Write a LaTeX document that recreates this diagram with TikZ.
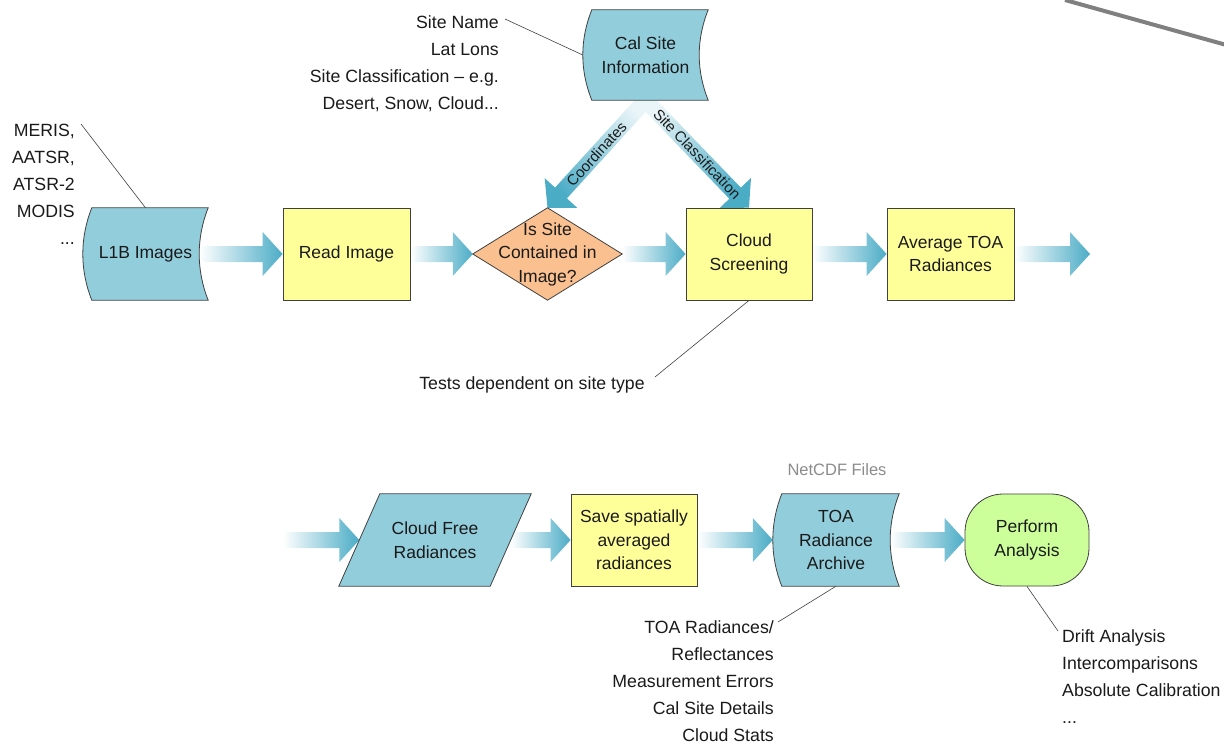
\documentclass[tikz,border=0pt]{standalone}
\usepackage{fontspec}
\setmainfont{Liberation Sans}
\usetikzlibrary{calc,backgrounds}
\definecolor{fillblue}{HTML}{92CDDC}
\definecolor{arrowblue}{HTML}{4BACC6}
\definecolor{fillyellow}{HTML}{FFFF99}
\definecolor{fillsalmon}{HTML}{FAC090}
\definecolor{fillgreen}{HTML}{CCFF99}
\definecolor{edgec}{HTML}{404040}
\definecolor{textc}{HTML}{1A1A1A}
\definecolor{netcdfc}{HTML}{8C8C8C}
\definecolor{toplinec}{HTML}{808080}

% block arrow: #1 shading options, #2 from, #3 to
\newcommand\blockarrow[3]{%
  \coordinate (ba) at #2;
  \coordinate (bb) at #3;
  \coordinate (bh) at ($(bb)!20pt!(ba)$);
  \path[#1] ($(ba)!8pt!90:(bb)$) -- ($(bh)!8pt!-90:(ba)$) -- ($(bh)!22pt!-90:(ba)$) -- (bb)
    -- ($(bh)!22pt!90:(ba)$) -- ($(bh)!8pt!90:(ba)$) -- ($(ba)!8pt!-90:(bb)$) -- cycle;
}
% stored-data outline round a node: #1 node, #2 fill
\newcommand\storedoutline[2]{%
  \path[outline, fill=#2] ($(#1.north west)+(9,0)$) -- (#1.north east)
    .. controls +(-12,30) and +(-12,-30) .. (#1.south east)
    -- ($(#1.south west)+(9,0)$)
    .. controls +(-12,-30) and +(-12,30) .. ($(#1.north west)+(9,0)$) -- cycle;
}

\tikzset{
  lbl/.style={font=\fontsize{17.5}{23.5}\selectfont, text=textc, align=center, inner sep=0pt},
  boxnode/.style={lbl, draw=edgec, line width=0.8pt, minimum width=127pt, minimum height=92pt},
  shapenode/.style={lbl, minimum width=125pt, minimum height=92pt},
  outline/.style={draw=edgec, line width=0.8pt},
  ann/.style={font=\fontsize{17.7}{27}\selectfont, text=textc, inner sep=0pt},
  leader/.style={draw=edgec, line width=0.6pt},
  flowarrow/.style={left color=white, right color=arrowblue},
  arrlbl/.style={font=\fontsize{15}{16}\selectfont, text=textc, inner sep=0pt},
}

\begin{document}
\begin{tikzpicture}[x=1pt, y=-1pt]
\useasboundingbox (0,0) rectangle (1224,744);

% ---------- nodes (top row) ----------
\node[shapenode, minimum height=90pt] (cal) at (645.5,55) {Cal Site\\Information};
\node[shapenode] (l1b) at (145.5,254) {L1B Images};
\node[boxnode, fill=fillyellow] (read) at (346.5,254) {Read Image};
\node[shapenode, minimum width=149pt] (dia) at (547.5,254) {Is Site\\Contained in\\Image?};
\node[boxnode, fill=fillyellow, minimum width=126pt] (cloud) at (749,254) {Cloud\\Screening};
\node[boxnode, fill=fillyellow] (avg) at (950.5,254) {Average TOA\\Radiances};
\coordinate (out1) at (1090,254);

% ---------- nodes (bottom row) ----------
\coordinate (in2) at (283,540);
\node[shapenode, minimum width=192pt] (cfr) at (435,540) {Cloud Free\\Radiances};
\node[boxnode, fill=fillyellow, minimum width=126pt] (save) at (634,540) {Save spatially\\averaged\\radiances};
\node[shapenode, minimum width=126pt] (toa) at (836,540) {TOA\\Radiance\\Archive};
\node[boxnode, fill=fillgreen, minimum width=124pt, rounded corners=38pt] (perf) at (1027,540) {Perform\\Analysis};
\node[font=\fontsize{16.5}{20}\selectfont, text=netcdfc, inner sep=0pt] (netcdf) at (837,470) {NetCDF Files};

% ---------- arrows and outlines behind ----------
\begin{scope}[on background layer]
  \blockarrow{flowarrow}{($(l1b.east)+(-9,0)$)}{(read.west)}
  \blockarrow{flowarrow}{(read.east)}{(dia.west)}
  \blockarrow{flowarrow}{(dia.east)}{(cloud.west)}
  \blockarrow{flowarrow}{(cloud.east)}{(avg.west)}
  \blockarrow{flowarrow}{(avg.east)}{(out1)}
  \blockarrow{flowarrow}{(in2)}{($(cfr.west)+(20.5,0)$)}
  \blockarrow{flowarrow}{($(cfr.east)+(-20.5,0)$)}{(save.west)}
  \blockarrow{flowarrow}{(save.east)}{(toa.west)}
  \blockarrow{flowarrow}{($(toa.east)+(-9,0)$)}{(perf.west)}
  \blockarrow{top color=arrowblue!12, bottom color=arrowblue, shading angle=-45}{(cal.south)}{(dia.north)}
  \blockarrow{top color=arrowblue!12, bottom color=arrowblue, shading angle=45}{(cal.south)}{(cloud.north)}

  \storedoutline{cal}{fillblue}
  \storedoutline{l1b}{fillblue}
  \storedoutline{toa}{fillblue}
  \path[outline, fill=fillsalmon] (dia.north) -- (dia.east) -- (dia.south) -- (dia.west) -- cycle;
  \path[outline, fill=fillblue] ($(cfr.north west)+(41,0)$) -- (cfr.north east)
    -- ($(cfr.south east)+(-41,0)$) -- (cfr.south west) -- cycle;
\end{scope}

% ---------- arrow labels ----------
\path (cal.south) -- node[arrlbl, sloped] (coordlbl) {Coordinates} (dia.north);
\path (cal.south) -- node[arrlbl, sloped] (classlbl) {Site Classification} (cloud.north);

% ---------- annotations ----------
\node[ann, align=right, anchor=east] (calnotes) at (499,64)
  {Site Name\\Lat Lons\\Site Classification -- e.g.\\Desert, Snow, Cloud...};
\node[ann, align=right, anchor=east] (sensors) at (75,184)
  {MERIS,\\AATSR,\\ATSR-2\\MODIS\\...};
\node[ann] (tests) at (532,385) {Tests dependent on site type};
\node[ann, align=right, anchor=east] (toanotes) at (774,681)
  {TOA Radiances/\\Reflectances\\Measurement Errors\\Cal Site Details\\Cloud Stats};
\node[ann, align=left, anchor=west] (analysisnotes) at (1062,677)
  {Drift Analysis\\Intercomparisons\\Absolute Calibration\\...};

\coordinate (sitenameend) at (505,19);
\coordinate (merisend) at (81,124);
\coordinate (testsend) at (655,377);
\coordinate (toaend) at (778,622);
\coordinate (driftend) at (1058,631);
\draw[leader] (sitenameend) -- (cal.west);
\draw[leader] (merisend) -- (l1b.north);
\draw[leader] (testsend) -- (cloud.south);
\draw[leader] (toaend) -- (toa.south);
\draw[leader] (perf.south) -- (driftend);

% ---------- grey stroke at the top right ----------
\begin{scope}
  \clip (0,0) rectangle (1224,744);
  \coordinate (strokea) at (1065,0);
  \coordinate (strokeb) at (1230,46);
  \draw[toplinec, line width=4pt] (strokea) -- (strokeb);
\end{scope}
\end{tikzpicture}
\end{document}
